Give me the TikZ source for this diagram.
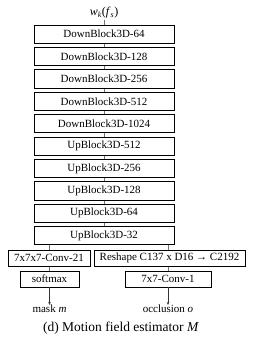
\documentclass[tikz,border=0pt]{standalone}
\usepackage{fontspec}
\setmainfont{Liberation Serif}
\usetikzlibrary{arrows.meta}
\begin{document}
\begin{tikzpicture}[x=1pt,y=-1pt,
  blk/.style={draw,line width=0.9pt,minimum width=140pt,minimum height=18.3pt,inner sep=0pt,font=\fontsize{11}{12}\selectfont},
  sblk/.style={draw,line width=0.9pt,minimum height=16pt,inner sep=0pt,font=\fontsize{11}{12}\selectfont},
  conn/.style={draw=black!55,line width=0.6pt},
  arr/.style={draw=black!80,line width=0.6pt,-{Stealth[length=3pt,width=2.6pt]}},
  lbl/.style={inner sep=1pt,font=\fontsize{11}{12}\selectfont}]
\useasboundingbox (0,0) rectangle (253,344);
\node[lbl,font=\fontsize{12}{13}\selectfont] (in) at (104,13) {\textit{w}\textsubscript{\textit{k}}(\textit{f}\textsubscript{\textit{s}})};
\node[blk] (b1) at (104,34.15) {DownBlock3D-64};
\node[blk] (b2) at (104,56.55) {DownBlock3D-128};
\node[blk] (b3) at (104,78.95) {DownBlock3D-256};
\node[blk] (b4) at (104,101.35) {DownBlock3D-512};
\node[blk] (b5) at (104,123.75) {DownBlock3D-1024};
\node[blk] (b6) at (104,146.15) {UpBlock3D-512};
\node[blk] (b7) at (104,168.55) {UpBlock3D-256};
\node[blk] (b8) at (104,190.95) {UpBlock3D-128};
\node[blk] (b9) at (104,213.35) {UpBlock3D-64};
\node[blk] (b10) at (104,235.75) {UpBlock3D-32};
\node[sblk,minimum width=82pt] (c21) at (49,258.2) {7x7x7-Conv-21};
\node[sblk,minimum width=151pt] (rs) at (169.5,258.2) {Reshape C137 x D16 \textbf{→} C2192};
\node[sblk,minimum width=59pt] (sm) at (49.5,279) {softmax};
\node[sblk,minimum width=86pt] (c1) at (168,279) {7x7-Conv-1};
\node[lbl] (mask) at (49.5,309) {mask \textit{m}};
\node[lbl] (occ) at (168,309) {occlusion \textit{o}};
\node[font=\fontsize{13.5}{15}\selectfont] (cap) at (121,328) {(d) Motion field estimator \textit{M}};
\draw[conn] (in) -- (b1);
\foreach \a/\b in {b1/b2,b2/b3,b3/b4,b4/b5,b5/b6,b6/b7,b7/b8,b8/b9,b9/b10}
  \draw[conn] (\a) -- (\b);
\draw[conn] (b10.south -| c21.north) -- (c21.north);
\draw[conn] (b10.south -| c1.north) -- (c1.north |- rs.north);
\draw[conn] (c21.south -| sm.north) -- (sm.north);
\draw[conn] (rs.south -| c1.north) -- (c1.north);
\draw[arr] (sm.south) -- ([yshift=-1pt]mask.north);
\draw[arr] (c1.south) -- ([yshift=-1pt]occ.north);
\end{tikzpicture}
\end{document}
